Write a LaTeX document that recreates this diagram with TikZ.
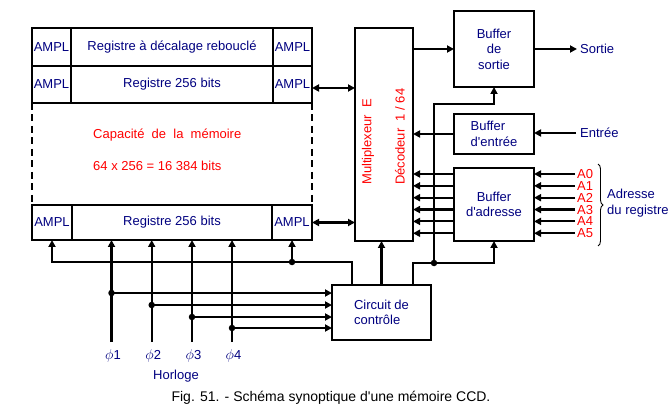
\documentclass[tikz,border=0pt]{standalone}
\usepackage{fontspec}
\setmainfont{Liberation Sans}
\usetikzlibrary{arrows.meta,decorations.pathreplacing,calc}
\definecolor{navy}{RGB}{0,0,128}
\definecolor{redzero}{RGB}{255,0,0}
\begin{document}
\begin{tikzpicture}[x=1pt,y=-1pt,
 lbl/.style={font=\fontsize{13}{15.5}\selectfont, text=navy},
 box/.style={draw, line width=2.2pt, inner sep=0pt, outer sep=0pt, lbl, align=center},
 wire/.style={line width=2.2pt},
 arr/.style={wire, -{Triangle[length=7pt,width=7pt]}},
 darr/.style={wire, {Triangle[length=7pt,width=7pt]}-{Triangle[length=7pt,width=7pt]}},
 dotn/.style={circle, fill, inner sep=0pt, minimum size=6.5pt},
 redtxt/.style={font=\fontsize{13}{15.5}\selectfont, text=redzero, inner sep=0pt}
]
\fill[white] (0,0) rectangle (672,414);
\useasboundingbox (0,0) rectangle (672,414);

% memory block
\node[box, minimum width=39pt, minimum height=38pt] (a1l) at (51.5,47) {AMPL};
\node[box, minimum width=202pt, minimum height=38pt] (r1) at (172,47) {Registre à décalage rebouclé};
\node[box, minimum width=39pt, minimum height=38pt] (a1r) at (292.5,47) {AMPL};
\node[box, minimum width=39pt, minimum height=37pt] (a2l) at (51.5,84.5) {AMPL};
\node[box, minimum width=202pt, minimum height=37pt] (r2) at (172,84.5) {Registre 256 bits};
\node[box, minimum width=39pt, minimum height=37pt] (a2r) at (292.5,84.5) {AMPL};
\node[box, minimum width=40pt, minimum height=35pt] (a3l) at (52,222.5) {AMPL};
\node[box, minimum width=200pt, minimum height=35pt] (r3) at (172,222.5) {Registre 256 bits};
\node[box, minimum width=40pt, minimum height=35pt] (a3r) at (292,222.5) {AMPL};
\draw[wire, dash pattern=on 7pt off 4.5pt] (a2l.south west) -- (a3l.north west);
\draw[wire, dash pattern=on 7pt off 4.5pt] (a2r.south east) -- (a3r.north east);
\node[redtxt, anchor=west] (cap1) at (93,135) {Capacité~ de~ la~ mémoire};
\node[redtxt, anchor=west] (cap2) at (93,166) {64 x 256 = 16 384 bits};

% multiplexer
\node[box, minimum width=58pt, minimum height=213pt] (mux) at (384,134.5) {};
\node[redtxt, rotate=90, anchor=west] (muxt1) at (368,185) {Multiplexeur~ E};
\node[redtxt, rotate=90, anchor=west] (muxt2) at (400,185) {Décodeur~ 1 / 64};

% buffers
\node[box, minimum width=80pt, minimum height=76pt] (bs) at (494,49) {Buffer\\de\\sortie};
\node[box, align=left, minimum width=80pt, minimum height=40pt] (be) at (494,134) {Buffer\\d\textquotesingle entrée};
\node[box, minimum width=80pt, minimum height=73pt] (ba) at (494,204.5) {Buffer\\d\textquotesingle adresse};
\node[box, align=left, minimum width=99pt, minimum height=55pt] (circ) at (381.5,312.5) {Circuit de\\contrôle};

% mux <-> memory
\coordinate (p88) at ([yshift=-3.5pt]a2r.east);
\draw[darr] (p88) -- (p88 -| mux.west);
\draw[darr] (a3r.east) -- (a3r.east -| mux.west);

% output / input
\draw[arr] (mux.east |- bs.west) -- (bs.west);
\node[lbl, anchor=west, inner sep=0pt] (sortie) at (580,49) {Sortie};
\draw[arr, shorten >=3pt] (bs.east) -- (sortie.west);
\node[lbl, anchor=west, inner sep=0pt] (entree) at (580,133) {Entrée};
\draw[arr, shorten <=4pt] (entree.west) -- (entree.west -| be.east);
\draw[arr] (be.west) -- (be.west -| mux.east);

% address lines
\foreach \i in {0,...,5} {
  \pgfmathsetmacro\yy{173.5+11.85*\i}
  \node[redtxt, anchor=west] (a\i) at (577,\yy+0.5) {A\i};
  \draw[arr, shorten <=2pt] (a\i.west) -- (a\i.west -| ba.east);
  \draw[arr] (a\i.west -| ba.west) -- (a\i.west -| mux.east);
}
\draw[line width=0.9pt, decorate, decoration={brace, amplitude=5pt}] (598,164) -- (598,246);
\node[lbl, anchor=west, align=left, inner sep=0pt] (adr) at (607,203) {Adresse\\du registre};

% control lines (right)
\coordinate (dR) at (434,263);
\coordinate (bendR) at (434,104);
\draw[wire] ([xshift=31.5pt]circ.north) |- (dR);
\draw[arr] (dR) -- (bendR) -| (bs.south);
\draw[arr] (dR) -| (ba.south);
\node[dotn] (dotR) at (dR) {};
\draw[arr] (circ.north) -- (circ.north |- mux.south);

% control lines (left)
\coordinate (dL) at (292,262);
\draw[arr] ([xshift=-29.5pt]circ.north) |- (dL) -| (a3l.south);
\draw[arr] (dL) -- (dL |- a3r.south);
\node[dotn] (dotL) at (dL) {};

% clock
\foreach \i/\x/\yd in {1/111.5/293, 2/151.7/305, 3/192/317, 4/232/328} {
  \node[lbl, anchor=north, inner sep=0pt] (phi\i) at (\x+1.5,349) {{\fontsize{15}{15}\selectfont$\phi$}\i};
  \coordinate (cb\i) at (\x,342);
  \coordinate (cd\i) at (\x,\yd);
  \draw[arr] (cb\i) -- (cb\i |- r3.south);
  \draw[arr] (cd\i) -- (cd\i -| circ.west);
  \node[dotn] at (cd\i) {};
}
\node[lbl] (horloge) at (176,376) {Horloge};
\node[font=\fontsize{14}{16}\selectfont, text=black] (caption) at (331,398) {Fig. 51. - Schéma synoptique d\textquotesingle une mémoire CCD.};
\end{tikzpicture}
\end{document}
